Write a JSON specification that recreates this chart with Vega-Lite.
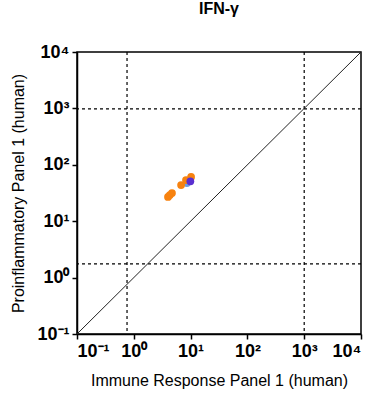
{
  "$schema": "https://vega.github.io/schema/vega-lite/v6.json",
  "width": 284,
  "height": 282,
  "autosize": {"type": "none"},
  "padding": {"left": 77, "top": 52, "right": 13, "bottom": 62},
  "background": "white",
  "config": {
    "view": {"stroke": "black", "strokeWidth": 1.5},
    "font": "Liberation Sans",
    "axis": {
      "grid": false,
      "domainColor": "black",
      "domainWidth": 1.5,
      "tickColor": "black",
      "tickWidth": 1.5,
      "tickSize": 5,
      "labelFont": "Liberation Sans",
      "labelFontWeight": "bold",
      "labelFontSize": 18,
      "labelColor": "black",
      "titleFont": "Liberation Sans",
      "titleFontWeight": "normal",
      "titleFontSize": 16,
      "titleColor": "black"
    }
  },
  "title": {
    "text": "IFN-γ",
    "fontSize": 16,
    "fontWeight": "bold",
    "font": "Liberation Sans",
    "color": "black",
    "anchor": "middle",
    "offset": 26
  },
  "datasets": {
    "points": [
      {"imm": 8.6, "pro": 47.5, "group": "B", "ord": 0},
      {"imm": 4.0, "pro": 26.9, "group": "A", "ord": 1},
      {"imm": 4.3, "pro": 29.0, "group": "A", "ord": 1},
      {"imm": 4.7, "pro": 31.6, "group": "A", "ord": 1},
      {"imm": 6.8, "pro": 43.8, "group": "A", "ord": 1},
      {"imm": 8.3, "pro": 53.7, "group": "A", "ord": 1},
      {"imm": 10.2, "pro": 60.8, "group": "A", "ord": 1},
      {"imm": 9.9, "pro": 51.0, "group": "C", "ord": 2}
    ],
    "vlines": [{"v": 0.76}, {"v": 1000}],
    "hlines": [{"v": 980}, {"v": 1.75}],
    "diag": [{"a": 0.1}, {"a": 10000}]
  },
  "layer": [
    {
      "data": {"name": "vlines"},
      "mark": {"type": "rule", "strokeDash": [3, 3], "color": "black", "strokeWidth": 1.2},
      "encoding": {
        "x": {"field": "v", "type": "quantitative", "scale": {"type": "log", "domain": [0.1, 10000], "nice": false}}
      }
    },
    {
      "data": {"name": "hlines"},
      "mark": {"type": "rule", "strokeDash": [3, 3], "color": "black", "strokeWidth": 1.2},
      "encoding": {
        "y": {"field": "v", "type": "quantitative", "scale": {"type": "log", "domain": [0.1, 10000], "nice": false}}
      }
    },
    {
      "data": {"name": "diag"},
      "mark": {"type": "line", "color": "#222", "strokeWidth": 1},
      "encoding": {
        "x": {"field": "a", "type": "quantitative"},
        "y": {"field": "a", "type": "quantitative"}
      }
    },
    {
      "data": {"name": "points"},
      "mark": {"type": "circle", "opacity": 1},
      "encoding": {
        "x": {
          "field": "imm", "type": "quantitative",
          "scale": {"type": "log", "domain": [0.1, 10000], "nice": false},
          "axis": {
            "values": [0.1, 1, 10, 100, 1000, 10000],
            "title": "Immune Response Panel 1 (human)",
            "titlePadding": 12,
            "labelPadding": 3,
            "labelExpr": "datum.value < 0.5 ? '10⁻¹' : datum.value < 5 ? '10⁰' : datum.value < 50 ? '10¹' : datum.value < 500 ? '10²' : datum.value < 5000 ? '10³' : '10⁴'"
          }
        },
        "y": {
          "field": "pro", "type": "quantitative",
          "scale": {"type": "log", "domain": [0.1, 10000], "nice": false},
          "axis": {
            "values": [0.1, 1, 10, 100, 1000, 10000],
            "title": "Proinflammatory Panel 1 (human)",
            "titlePadding": 10,
            "labelPadding": 3,
            "labelExpr": "datum.value < 0.5 ? '10⁻¹' : datum.value < 5 ? '10⁰' : datum.value < 50 ? '10¹' : datum.value < 500 ? '10²' : datum.value < 5000 ? '10³' : '10⁴'"
          }
        },
        "color": {
          "field": "group", "type": "nominal",
          "scale": {"domain": ["A", "B", "C"], "range": ["#F7820F", "#6C9CE0", "#5A2FD0"]},
          "legend": null
        },
        "size": {
          "field": "group", "type": "nominal",
          "scale": {"domain": ["A", "B", "C"], "range": [60, 60, 10]},
          "legend": null
        },
        "order": {"field": "ord", "type": "quantitative"}
      }
    }
  ]
}
